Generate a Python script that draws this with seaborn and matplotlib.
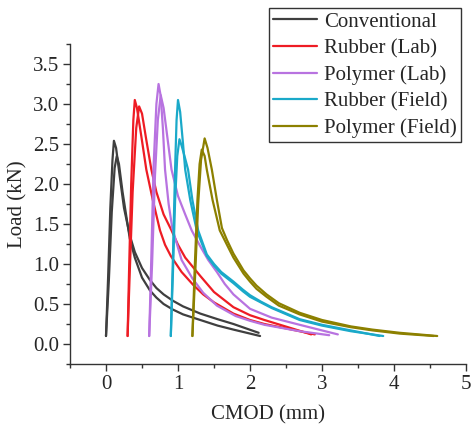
import numpy as np
import pandas as pd
import matplotlib
matplotlib.use('Agg')
import matplotlib.pyplot as plt
from matplotlib.ticker import MultipleLocator
import seaborn as sns

# ── Data (two specimens per mix) ──────────────────────────────────────
materials = ['Conventional', 'Rubber (Lab)', 'Polymer (Lab)',
             'Rubber (Field)', 'Polymer (Field)']
colors = ['#3f3f3f', '#ee1c24', '#b873e0', '#1aa9c9', '#8c8000']

conv_a_x = [0.00, 0.03, 0.06, 0.09, 0.11, 0.14, 0.19, 0.25, 0.33, 0.40, 0.50, 0.61, 0.70, 0.80, 0.93, 1.07, 1.31, 1.55, 1.77, 2.12]
conv_a_y = [0.10, 0.85, 1.70, 2.30, 2.54, 2.45, 2.10, 1.70, 1.36, 1.15, 0.95, 0.80, 0.70, 0.62, 0.54, 0.47, 0.38, 0.31, 0.25, 0.14]
conv_b_x = [0.00, 0.04, 0.08, 0.12, 0.15, 0.18, 0.23, 0.33, 0.40, 0.50, 0.61, 0.70, 0.80, 0.93, 1.07, 1.31, 1.55, 1.77, 2.14]
conv_b_y = [0.10, 0.80, 1.65, 2.20, 2.35, 2.25, 1.90, 1.32, 1.08, 0.83, 0.67, 0.58, 0.50, 0.43, 0.37, 0.30, 0.23, 0.18, 0.10]

rub_lab_a_x = [0.30, 0.32, 0.35, 0.38, 0.40, 0.43, 0.49, 0.56, 0.65, 0.75, 0.82, 0.90, 1.05, 1.21, 1.35, 1.50, 1.77, 2.00, 2.20, 2.69, 2.90]
rub_lab_a_y = [0.10, 0.90, 2.00, 2.80, 3.05, 2.95, 2.60, 2.18, 1.80, 1.42, 1.24, 1.10, 0.90, 0.74, 0.62, 0.52, 0.38, 0.30, 0.25, 0.16, 0.12]
rub_lab_b_x = [0.30, 0.33, 0.37, 0.42, 0.46, 0.50, 0.56, 0.63, 0.70, 0.80, 0.91, 1.00, 1.10, 1.31, 1.50, 1.77, 2.00, 2.20, 2.60, 2.85]
rub_lab_b_y = [0.10, 0.90, 1.90, 2.70, 2.97, 2.88, 2.55, 2.18, 1.90, 1.62, 1.42, 1.24, 1.08, 0.85, 0.65, 0.46, 0.36, 0.30, 0.19, 0.12]

pol_lab_a_x = [0.60, 0.63, 0.66, 0.70, 0.73, 0.76, 0.79, 0.82, 0.87, 0.92, 1.05, 1.20, 1.35, 1.54, 1.80, 2.00, 2.20, 2.69, 3.10]
pol_lab_a_y = [0.10, 1.10, 2.20, 3.00, 3.25, 3.10, 2.70, 2.18, 1.75, 1.45, 1.05, 0.82, 0.64, 0.48, 0.35, 0.29, 0.24, 0.16, 0.11]
pol_lab_b_x = [0.60, 0.64, 0.68, 0.72, 0.76, 0.80, 0.85, 0.91, 1.00, 1.10, 1.19, 1.31, 1.42, 1.54, 1.65, 1.77, 2.00, 2.30, 2.69, 3.22]
pol_lab_b_y = [0.10, 1.00, 2.10, 2.80, 3.11, 2.95, 2.60, 2.18, 1.85, 1.62, 1.42, 1.22, 1.05, 0.90, 0.75, 0.62, 0.44, 0.33, 0.24, 0.12]

rub_fld_a_x = [0.90, 0.93, 0.96, 0.98, 1.00, 1.03, 1.07, 1.10, 1.17, 1.26, 1.40, 1.50, 1.60, 1.77, 1.90, 2.00, 2.15, 2.30, 2.69, 3.00, 3.40, 3.85]
rub_fld_a_y = [0.10, 1.10, 2.20, 2.80, 3.05, 2.90, 2.50, 2.18, 1.80, 1.42, 1.10, 0.98, 0.88, 0.76, 0.66, 0.59, 0.52, 0.45, 0.30, 0.23, 0.16, 0.10]
rub_fld_b_x = [0.90, 0.93, 0.96, 0.99, 1.02, 1.05, 1.09, 1.14, 1.20, 1.28, 1.40, 1.50, 1.60, 1.77, 1.90, 2.00, 2.15, 2.30, 2.69, 3.00, 3.40, 3.80]
rub_fld_b_y = [0.10, 0.90, 1.80, 2.35, 2.56, 2.48, 2.35, 2.18, 1.80, 1.42, 1.12, 1.00, 0.90, 0.78, 0.68, 0.61, 0.53, 0.46, 0.31, 0.24, 0.17, 0.10]

pol_fld_a_x = [1.20, 1.24, 1.28, 1.32, 1.37, 1.41, 1.47, 1.54, 1.61, 1.68, 1.77, 1.91, 2.00, 2.09, 2.23, 2.40, 2.69, 3.00, 3.40, 3.70, 4.08, 4.60]
pol_fld_a_y = [0.10, 0.90, 1.75, 2.30, 2.57, 2.45, 2.18, 1.80, 1.45, 1.30, 1.13, 0.92, 0.82, 0.73, 0.62, 0.51, 0.39, 0.30, 0.22, 0.18, 0.14, 0.10]
pol_fld_b_x = [1.20, 1.23, 1.27, 1.30, 1.33, 1.37, 1.40, 1.48, 1.58, 1.68, 1.77, 1.91, 2.00, 2.09, 2.23, 2.40, 2.69, 3.00, 3.40, 3.70, 4.08, 4.55]
pol_fld_b_y = [0.10, 0.90, 1.80, 2.25, 2.43, 2.35, 2.18, 1.80, 1.42, 1.24, 1.08, 0.88, 0.78, 0.69, 0.59, 0.48, 0.37, 0.28, 0.21, 0.17, 0.13, 0.10]

curves = [
    ('Conventional',    'A', conv_a_x,    conv_a_y),
    ('Conventional',    'B', conv_b_x,    conv_b_y),
    ('Rubber (Lab)',    'A', rub_lab_a_x, rub_lab_a_y),
    ('Rubber (Lab)',    'B', rub_lab_b_x, rub_lab_b_y),
    ('Polymer (Lab)',   'A', pol_lab_a_x, pol_lab_a_y),
    ('Polymer (Lab)',   'B', pol_lab_b_x, pol_lab_b_y),
    ('Rubber (Field)',  'A', rub_fld_a_x, rub_fld_a_y),
    ('Rubber (Field)',  'B', rub_fld_b_x, rub_fld_b_y),
    ('Polymer (Field)', 'A', pol_fld_a_x, pol_fld_a_y),
    ('Polymer (Field)', 'B', pol_fld_b_x, pol_fld_b_y),
]

rows = []
for mat, spec, xs, ys in curves:
    for x, y in zip(xs, ys):
        rows.append({'Material': mat, 'Specimen': f'{mat}-{spec}',
                     'CMOD': x, 'Load': y})
df = pd.DataFrame(rows)

# ── Style ─────────────────────────────────────────────────────────────
sns.set_style('ticks')
plt.rcParams['font.family'] = ['Liberation Serif', 'DejaVu Serif']
plt.rcParams['font.size'] = 15

fig = plt.figure(figsize=(4.73, 4.30), dpi=100)
ax = fig.add_axes([70/473, 1 - 364/430, (466 - 70)/473, (364 - 44)/430])

sns.lineplot(data=df, x='CMOD', y='Load', hue='Material', units='Specimen',
             estimator=None, sort=False, hue_order=materials,
             palette=colors, linewidth=1.6, ax=ax)

ax.set_xlim(-0.5, 5)
ax.set_ylim(-0.25, 3.75)
ax.xaxis.set_major_locator(MultipleLocator(1))
ax.xaxis.set_minor_locator(MultipleLocator(0.5))
ax.yaxis.set_major_locator(MultipleLocator(0.5))
ax.yaxis.set_minor_locator(MultipleLocator(0.25))
ax.yaxis.set_major_formatter(matplotlib.ticker.FormatStrFormatter('%.1f'))

for s in ['top', 'right']:
    ax.spines[s].set_visible(False)
for s in ['left', 'bottom']:
    ax.spines[s].set_color('#333333')
    ax.spines[s].set_linewidth(1.0)
ax.tick_params(which='major', direction='out', length=5, width=1,
               color='#333333', labelsize=15, pad=3)
ax.tick_params(which='minor', direction='out', length=3, width=1,
               color='#333333')

ax.set_xlabel('CMOD (mm)', fontsize=15, labelpad=8)
ax.set_ylabel('Load (kN)', fontsize=15, labelpad=4)

handles, labels = ax.get_legend_handles_labels()
ax.legend(handles, labels, loc='upper right',
          bbox_to_anchor=(461/473, 1 - 8/430), bbox_transform=fig.transFigure,
          frameon=True, fancybox=False, edgecolor='#333333', framealpha=1,
          fontsize=15, handlelength=2.1, handletextpad=0.35,
          borderpad=0.2, labelspacing=0.33, borderaxespad=0)
ax.get_legend().get_frame().set_linewidth(1.0)

fig.savefig('out.png', dpi=100)
plt.close(fig)
